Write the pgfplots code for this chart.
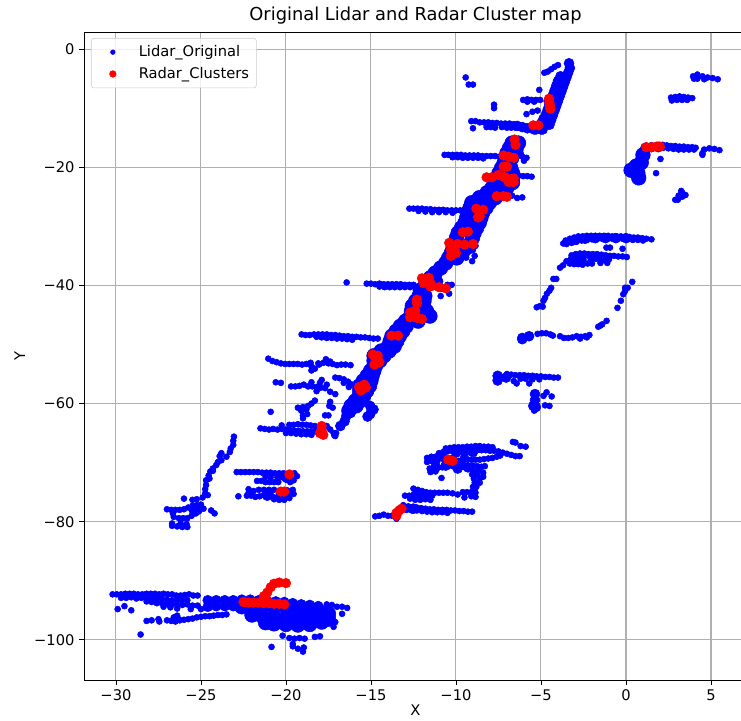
\documentclass[border=0pt]{standalone}
\usepackage{fontspec}
\setmainfont{DejaVu Sans}
\usepackage{pgfplots}
\pgfplotsset{compat=1.18}
\definecolor{lidar}{RGB}{0,0,255}
\definecolor{radar}{RGB}{255,0,0}
\pgfplotsset{
  sm/.style={forget plot,only marks,mark=*,mark size=2.25pt,color=lidar,mark options={draw=none,fill=lidar}},
  md/.style={forget plot,only marks,mark=*,mark size=3.75pt,color=lidar,mark options={draw=none,fill=lidar}},
  lg/.style={forget plot,only marks,mark=*,mark size=5.5pt,color=lidar,mark options={draw=none,fill=lidar}},
  rd/.style={forget plot,only marks,mark=*,mark size=3.6pt,color=radar,mark options={draw=none,fill=radar}},
}
\begin{document}
\begin{tikzpicture}
\path[use as bounding box] (-63pt,-30pt) rectangle (492.75pt,510pt);
\begin{axis}[
  scale only axis,
  width=497.25pt,height=486pt,
  xmin=-31.88,xmax=7.12,ymin=-106.8,ymax=2.9,
  xtick={-30,-25,-20,-15,-10,-5,0,5},
  xticklabels={−30,−25,−20,−15,−10,−5,0,5},
  ytick={0,-20,-40,-60,-80,-100},
  yticklabels={0,−20,−40,−60,−80,−100},
  tick label style={font=\fontsize{11}{12}\selectfont},
  tick style={black,line width=0.6pt},
  tick align=outside,
  major tick length=3.6pt,
  xtick pos=bottom,ytick pos=left,
  axis line style={black,line width=0.6pt},
  grid=major,
  grid style={color=black!31,line width=0.8pt},
  title={Original Lidar and Radar Cluster map},
  title style={font=\fontsize{13.4}{14}\selectfont,yshift=-4pt},
  xlabel={X},ylabel={Y},
  xlabel style={yshift=3.5pt},
  label style={font=\fontsize{11}{12}\selectfont},
  legend cell align=left,
  legend image code/.code={\path (0pt,0pt) (29.75pt,0pt); \draw[#1] plot coordinates {(12.5pt,0pt)};},
  legend style={at={(5.25pt,481.5pt)},anchor=north west,font=\fontsize{11}{12}\selectfont,
    draw=black!20,rounded corners=2pt,fill=white,fill opacity=0.8,text opacity=1,inner sep=3.5pt,row sep=2.5pt},
]
\addlegendimage{only marks,mark=*,mark size=1.75pt,color=lidar,mark options={opacity=1}}
\addlegendentry{Lidar\_Original}
\addlegendimage{only marks,mark=*,mark size=2.5pt,color=radar,mark options={opacity=1}}
\addlegendentry{Radar\_Clusters}

% ---- main band, upper part
\addplot[md] coordinates {(-3.35,-2.4)(-3.3,-3.2)(-3.4,-4)(-3.5,-4.8)(-3.6,-5.6)(-3.7,-6.4)(-3.8,-7.2)(-3.9,-8)(-4,-8.8)(-4.1,-9.6)(-4.2,-10.4)(-4.3,-11.2)(-4.4,-12)(-4.5,-12.8)(-4.9,-13.6)
(-3.85,-4.6)(-4,-5.4)(-4.1,-6.2)(-4.2,-7)(-4.3,-7.8)(-4.4,-8.6)(-4.55,-8.8)(-4.5,-9.4)(-4.6,-10.2)(-4.7,-11)(-4.85,-11.8)(-4.75,-12.4)(-5,-12.6)(-5.1,-13)(-5.5,-13.2)(-5.3,-13.6)};
% ---- main band, middle and lower
\addplot[lg] coordinates {
(-6.7,-15.9)(-6.32,-15.9)(-7,-17.6)(-6.57,-17.6)(-7.17,-19.3)(-6.87,-19.3)(-7.47,-21)(-6.67,-21)(-7.57,-22.6)(-6.67,-22.6)(-8.17,-24.3)(-7.33,-24.3)(-9.07,-26)(-8.03,-26)(-9.27,-27.7)(-8.43,-27.7)(-9.47,-29.4)(-8.63,-29.4)(-9.87,-31.1)(-8.93,-31.1)(-10.07,-32.8)(-9.13,-32.8)(-10.27,-34.5)(-9.63,-34.5)(-10.6,-36.2)(-11.22,-37.9)(-11.77,-39.5)(-11.23,-39.5)
(-12.1,-40.8)(-12.17,-41.8)(-11.83,-41.8)(-12.57,-43.5)(-11.93,-43.5)(-12.67,-45.2)(-11.53,-45.2)(-13.27,-46.9)(-12.93,-46.9)(-13.77,-48.6)(-13.33,-48.6)(-13.97,-50.3)(-13.63,-50.3)(-14.82,-51.9)(-14.23,-51.9)(-14.82,-53.6)(-14.73,-53.6)(-15.22,-55.3)(-14.93,-55.3)(-15.67,-57)(-15.08,-57)(-15.67,-58.7)(-15.43,-58.7)(-16.17,-60.4)(-15.88,-60.4)
(-6.85,-16.75)(-6.45,-16.75)(-7.08,-18.45)(-6.72,-18.45)(-7.32,-20.15)(-6.77,-20.15)(-7.52,-21.8)(-6.67,-21.8)(-7.87,-23.45)(-7,-23.45)(-8.62,-25.15)(-7.68,-25.15)(-9.17,-26.85)(-8.23,-26.85)(-9.37,-28.55)(-8.53,-28.55)(-9.67,-30.25)(-8.78,-30.25)(-9.97,-31.95)(-9.03,-31.95)(-10.17,-33.65)(-9.38,-33.65)(-10.43,-35.35)(-9.95,-35.35)(-10.9,-37.05)(-11.5,-38.7)
(-12.37,-42.65)(-11.88,-42.65)(-12.62,-44.35)(-11.73,-44.35)(-12.97,-46.05)(-12.23,-46.05)(-13.52,-47.75)(-13.13,-47.75)(-13.87,-49.45)(-13.48,-49.45)(-14.4,-51.1)(-13.93,-51.1)(-14.82,-52.75)(-14.48,-52.75)(-15.02,-54.45)(-14.83,-54.45)(-15.45,-56.15)(-15,-56.15)(-15.67,-57.85)(-15.25,-57.85)(-15.92,-59.55)(-15.65,-59.55)(-16.3,-61.2)};
\addplot[md] coordinates {(-16.45,-62.1)(-16.2,-61.6)(-16.8,-63.8)(-16.55,-63)(-15.05,-60.4)(-15.05,-61.8)(-14.85,-61)(-15.2,-62.2)(-11.05,-39.3)};
% ---- strands, top
\addplot[sm] coordinates {
(-17.05,-65)(-17.15,-65.4)
(-4.8,-4)(-4.6,-3.8)(-4.4,-3.4)(-4.2,-3)(-4,-2.7)(-9.43,-4.8)(-9.25,-6)(-9,-6)(-7.76,-9.4)(-7.76,-10)
(-6.05,-8.6)(-5.8,-8.5)(-5.55,-8.6)(-5.3,-8.6)(-5.05,-8.6)(-5.8,-8.9)(-5.4,-8.9)(-5.1,-6.9)(-5.85,-11)(-5.5,-10.6)(-5.2,-10.4)
(-9.1,-12.2)(-8.85,-12.2)(-8.6,-12.4)(-8.35,-12.4)(-8.1,-12.4)(-7.85,-12.5)(-7.6,-12.5)(-7.35,-12.6)(-7.1,-12.6)(-6.85,-12.6)(-6.6,-12.7)
(-8.2,-13.2)(-7.95,-13.2)(-7.7,-13.3)(-7.3,-13.2)(-7,-13.3)(-6.75,-13.3)(-6.5,-13.3)(-9,-13.4)
(-10.67,-17.9)(-10.45,-17.9)(-10.2,-17.9)(-9.95,-17.9)(-9.7,-17.9)(-9.45,-18)(-9.2,-18)(-8.95,-18)(-8.7,-18)(-8.45,-18.1)(-8.2,-18.1)(-7.95,-18.1)(-7.7,-18.1)(-7.45,-18.2)
(-10.2,-18.3)(-9.9,-18.3)(-9.6,-18.4)(-9.3,-18.4)(-9,-18.4)(-8.7,-18.4)(-8.4,-18.5)
(-6.1,-18.2)(-5.85,-18.4)(-6,-18.9)(-6.2,-17.6)
(-6.6,-21.3)(-6.3,-21.4)(-6.05,-21.5)(-5.8,-21.5)(-5.55,-21.6)
(-6.7,-24.8)(-6.4,-25.2)(-6.1,-25.1)
(-12.74,-27)(-12.5,-27)(-12.25,-27)(-12,-27)(-11.75,-27.1)(-11.5,-27.1)(-11.25,-27.2)(-11,-27.2)(-10.75,-27.2)(-10.5,-27.3)(-10.25,-27.3)(-10,-27.3)(-9.75,-27.3)(-9.5,-27.2)(-12.2,-27.4)(-11.8,-27.5)(-11.4,-27.6)(-11,-27.6)(-10.6,-27.6)(-10.2,-27.7)
(-9,-34)(-8.9,-35)(-9.4,-35.3)(-9.05,-35.9)(-8.85,-33.3)
% row y = -40
(-16.43,-39.5)(-15.25,-39.7)(-15,-39.7)(-14.75,-39.8)(-14.5,-39.7)(-14.25,-39.8)(-14,-39.8)(-13.75,-39.8)(-13.5,-39.8)(-13.25,-39.8)(-13,-39.9)(-12.75,-39.9)(-12.5,-39.9)(-10.5,-39.9)(-10.25,-39.9)
(-14.5,-40.2)(-14.2,-40.3)(-13.9,-40.3)(-13.6,-40.3)(-13.3,-40.3)(-13,-40.3)(-12.7,-40.3)(-12.4,-40.3)
% right of band
(-10.9,-40.6)(-10.4,-41.4)(-10.9,-41.8)
% right top
(3.95,-4.6)(4.2,-4.3)(4.5,-4.6)(4.8,-4.8)(5.1,-4.9)(5.4,-5.1)(4.2,-5)(4.6,-5.1)(4,-5)
(2.65,-8.2)(2.9,-8.1)(3.15,-8)(3.4,-8.1)(3.65,-8.2)(3.9,-8.3)(2.7,-8.7)(3,-8.6)(3.3,-8.6)(3.6,-8.6)
(1.9,-16.2)(2.15,-16.2)(2.4,-16.3)(2.65,-16.4)(2.9,-16.4)(3.15,-16.5)(3.4,-16.5)(3.65,-16.6)(3.9,-16.6)(4.1,-16.7)(2.2,-16.7)(2.5,-16.8)(2.8,-16.9)(3.1,-17)(3.4,-17)(3.7,-17)(4,-17)
(4.5,-17.6)(4.6,-17)(4.9,-16.8)(5.2,-16.9)(5.5,-17.1)(4.5,-17.9)
(2.03,-18.6)(1.77,-21)
(2.9,-25.5)(3.1,-24.8)(3.25,-24)(3.5,-24.7)(3.3,-25)(3.05,-25.5)(3.3,-24.3)
% right middle
(-3.69,-32.9)(-3.55,-32.4)(-3.3,-32.1)(-3.05,-31.9)(-2.8,-31.7)(-2.55,-31.7)(-2.3,-31.6)(-2.05,-31.6)(-1.8,-31.6)(-1.55,-31.6)(-1.3,-31.6)(-1.05,-31.6)(-0.8,-31.7)(-0.55,-31.7)(-0.3,-31.7)(-0.05,-31.8)(0.2,-31.8)(0.45,-31.9)(0.7,-31.9)(0.95,-32)(1.2,-32.1)(1.5,-32.2)
(-3.5,-33)(-3.2,-32.8)(-2.9,-32.6)(-2.6,-32.4)(-2.3,-32.3)(-2,-32.2)(-1.7,-32.1)(-1.4,-32.1)(-1.1,-32.1)(-0.8,-32.1)(-0.5,-32.1)(-0.2,-32.1)(0.1,-32.2)(0.4,-32.3)(0.7,-32.3)(1,-32.4)(-3.1,-32.2)(-2.7,-32)
(-0.94,-33.6)(-1.15,-33.6)(-0.2,-33.8)
(-3.2,-34.9)(-2.95,-34.7)(-2.7,-34.6)(-2.45,-34.6)(-2.2,-34.7)(-1.95,-34.7)(-1.7,-34.7)(-1.45,-34.8)(-1.2,-34.9)(-0.95,-35)(-0.7,-35)(-0.45,-35.1)(-0.2,-35.1)(0.05,-35.2)
(-3.5,-35.9)(-3.25,-35.6)(-3,-35.6)(-2.75,-35.7)(-2.5,-35.7)(-2.25,-36.3)(-2,-36.3)(-1.75,-35.5)(-1.5,-35.7)(-1.25,-35.7)(-1,-35.6)(-3.3,-36.3)(-3.05,-36.4)(-2.8,-36.4)(-2.55,-36.5)(-1.5,-36.2)(-1.1,-36.2)
(-3.88,-37)(-3.7,-36.6)(-4.27,-38.9)(-4.1,-38.9)
(-4.4,-40.4)(-4.5,-40.9)(-4.65,-41.4)(-4.76,-42.1)(-4.85,-42.6)(-5.06,-43.5)(-5.25,-43.7)(-4.9,-43.6)
(-5.2,-48.2)(-4.95,-48.1)(-4.7,-48.1)(-4.45,-48.3)(-4.3,-48.5)
(-3.88,-48.6)(-3.65,-48.9)(-3.4,-48.9)(-3.15,-48.8)(-2.9,-48.6)(-2.65,-48.7)(-2.4,-48.6)(-2.15,-48.4)(-2.3,-48.8)(-2.7,-49)
(-1.63,-47)(-1.4,-46.6)(-1.14,-46)(-1.5,-46.8)(-0.5,-43.8)(-0.3,-42.6)(-0.06,-41)(0.1,-40.4)(0.37,-39.4)(-0.16,-41.5)(-0.05,-40.4)
% row -55
(-7,-55)(-6.75,-55.1)(-6.5,-55.2)(-6.25,-55.2)(-6,-55.2)(-5.75,-55.3)(-5.5,-55.3)(-5.25,-55.4)(-5,-55.4)(-4.75,-55.5)(-4.5,-55.5)(-4.25,-55.6)(-4,-55.6)
(-6.43,-56.6)(-5.69,-56.6)(-6.6,-56.2)(-6.2,-55.8)(-5.9,-55.8)(-5.5,-55.9)(-5.1,-55.9)
(-4.67,-58.1)(-4.37,-58.8)(-4.76,-60.3)(-4.5,-60.4)(-5.4,-61.2)(-4.85,-58.7)
% lower clusters
(-10.6,-67.6)(-10.35,-67.5)(-10.1,-67.4)(-9.85,-67.4)(-9.6,-67.4)(-9.35,-67.3)(-9.1,-67.3)(-8.85,-67.2)(-8.6,-67.2)(-8.35,-67.3)(-8.1,-67.3)(-7.85,-67.4)
(-11,-68.4)(-10.75,-68.2)(-10.5,-68.1)(-10.25,-68)(-10,-68)(-9.75,-68)(-9.5,-67.9)(-9.25,-67.9)(-9,-67.9)(-8.75,-67.9)(-8.5,-67.9)(-8.25,-67.9)(-8,-68)(-7.75,-68)(-7.5,-68.1)(-7.25,-68.3)(-7,-68.5)(-6.75,-68.7)(-6.5,-68.9)(-6.25,-68.9)
(-9.6,-69.3)(-9.35,-69.4)(-9.1,-69.5)(-8.85,-69.5)(-8.6,-69.5)(-8.35,-69.4)(-8.1,-69.3)(-7.85,-69.2)(-7.6,-69)(-7.4,-68.8)
(-6.5,-66.6)(-6.2,-67.2)(-5.9,-67.3)(-6.65,-66.5)
(-11.7,-69.2)(-11.45,-69)(-11.2,-69)(-10.95,-69)(-11.7,-69.9)(-11.4,-69.8)(-11.1,-69.8)(-9.85,-69.7)(-9.6,-70)(-11.55,-71)(-11.3,-71.2)(-11.05,-70.8)(-10.8,-70.8)(-10.5,-70.6)(-10.2,-70.6)(-9.9,-70.6)(-9.6,-70.7)(-9.3,-70.5)(-9,-70.5)(-8.75,-70.6)(-8.5,-70.7)(-8.3,-70.6)
(-11.5,-71.6)(-11.2,-71.5)(-10.85,-72.6)(-9,-71.4)(-8.7,-71.3)(-8.4,-71.7)(-9.05,-72)(-8.75,-72)(-8.4,-72.4)(-8.95,-72.7)(-8.6,-72.7)(-8.9,-73.4)(-8.6,-73.4)(-9,-74.1)(-8.8,-74.1)(-8.9,-74.8)
(-12.5,-74.4)(-12.25,-74.6)(-12,-74.8)(-11.75,-75)(-11.5,-75.1)(-11.25,-75.1)(-11,-75.1)(-10.75,-75.1)(-10.5,-75.1)(-10.2,-75.2)(-9.9,-75.4)(-9.6,-75)(-9.35,-75)(-9.1,-75)(-8.85,-75.1)(-9.5,-75.9)(-8.85,-75.8)(-9.1,-75.7)
(-13,-75.6)(-12.75,-75.6)(-12.5,-75.6)(-12.25,-75.6)(-12.7,-76.1)(-12.4,-76.3)(-12.1,-76.3)(-11.8,-76.2)(-11.5,-76.3)(-12,-75.5)(-11.7,-75.6)(-11.4,-75.6)
(-13.1,-77.2)(-12.8,-77.4)(-12.55,-77.5)(-12.3,-77.6)(-12.05,-77.7)(-11.8,-77.8)(-11.55,-77.9)(-11.3,-77.9)(-11.05,-78)(-10.8,-78)(-10.55,-78)(-10.3,-78.1)(-10.05,-78.1)(-9.8,-78.2)(-9.55,-78.2)(-9.3,-78.3)(-9.05,-78.3)
(-12.9,-78)(-12.6,-78.1)(-12.3,-78.1)(-12,-78.2)(-11.7,-78.3)(-11.4,-78.4)(-11.1,-78.4)(-10.8,-78.4)(-10.5,-78.5)
(-14.75,-79.1)(-14.5,-79)(-14.25,-78.8)(-14,-79)(-13.75,-79)(-13.5,-79.5)
% left rows
(-19.08,-48.3)(-18.85,-48.4)(-18.6,-48.4)(-18.35,-48.3)(-18.1,-48.3)(-17.85,-48.3)(-17.6,-48.3)(-17.35,-48.4)(-17.1,-48.4)(-16.85,-48.5)(-16.6,-48.6)(-16.35,-48.6)(-16.1,-48.7)(-15.85,-48.7)(-15.6,-48.8)(-15.35,-48.8)(-15.1,-48.9)(-14.85,-49)(-14.6,-49)
(-18.2,-48.7)(-17.9,-48.8)(-17.6,-48.9)(-17.3,-48.9)(-17,-49)(-16.7,-49)(-16.4,-49.1)(-16.1,-49.2)
(-21.04,-52.4)(-20.8,-52.8)(-20.55,-53)(-20.3,-53.2)(-20.05,-53.3)(-19.8,-53.3)(-19.55,-53.3)(-19.3,-53.3)(-19.05,-53.4)(-18.8,-53.3)(-18.55,-53.1)(-18.5,-53.7)(-18.5,-54.4)(-18.3,-54.1)(-18.05,-53.4)(-17.8,-53.1)(-17.65,-52.5)(-17.5,-53.2)(-17.25,-53.3)(-17,-53.5)(-16.75,-53.4)(-16.5,-53.4)(-16.2,-53.5)(-18.1,-53.2)(-17.4,-52.9)
(-20.6,-56.4)(-20.3,-56.5)(-19.7,-57.1)(-19.45,-57.1)(-19.2,-57)(-18.95,-56.8)(-18.7,-57.1)(-18.5,-56.4)(-18.45,-57.1)(-18.2,-57.2)(-18,-56.5)(-17.95,-57.3)(-17.9,-56)(-17.7,-57.4)(-17.6,-56.8)(-18.2,-57.9)(-17.4,-58)(-17.1,-58.4)
(-17.1,-55.6)(-16.85,-55.7)(-16.6,-55.9)(-16.35,-56.3)(-16.2,-56.7)(-16.6,-56.5)(-16.3,-57.2)
(-18.3,-59.5)(-18.5,-60)(-17.4,-59.7)(-17.45,-60.4)(-17.25,-60.7)(-19.3,-60.7)(-19,-60.6)(-18.7,-60.4)(-19.1,-61.2)(-18.8,-61)(-19,-62)(-18.75,-61.8)(-19,-62.5)(-17.7,-62)(-17.5,-62)(-20.9,-61.4)
(-21.5,-64.2)(-21.25,-64.3)(-21,-64.4)(-20.75,-64.3)(-20.5,-64.4)(-20.25,-64.3)(-20,-64.4)(-19.75,-64.5)(-19.5,-64.6)(-19.25,-64.6)(-19,-64.7)(-18.75,-64.7)(-18.5,-64.7)(-18.25,-64.7)
(-20.25,-63.7)(-19.8,-63.6)(-19.55,-63.6)(-19.3,-63.5)(-19.05,-63.6)(-18.8,-63.6)(-18.55,-63.7)(-18.3,-63.8)
(-20,-65)(-19.7,-65)(-19.4,-65.1)(-19.1,-65.2)(-18.8,-65.2)(-18.5,-65.3)(-17.4,-64.4)(-17.6,-63.8)(-17.2,-65)(-17.1,-65.5)
% far left
(-23.06,-65.6)(-23.1,-66.3)(-23.1,-67)(-23.25,-67.6)(-23.3,-68.2)(-23.8,-68.4)(-23.9,-68.9)(-23.8,-69.6)(-23.5,-69)(-24.1,-70.4)(-24,-69.9)(-24.3,-71)(-24.45,-71.5)(-24.55,-72.2)(-24.3,-71.4)(-24.7,-73)(-24.5,-72.7)(-24.7,-73.8)(-24.75,-74.5)(-24.75,-75.2)(-24.6,-75.5)(-24.9,-75.9)(-25.25,-76.2)(-25.5,-76.3)(-26,-76.1)
(-27,-77.9)(-26.75,-78)(-26.5,-78)(-26.25,-78)(-26,-77.9)(-25.75,-77.6)(-25.5,-77.3)(-25.25,-77.2)(-25,-77.1)(-25.2,-77.9)(-24.85,-77.8)(-24.4,-78.1)(-24.2,-78.6)
(-26.65,-78.6)(-26.6,-79.2)(-26.3,-79.4)(-26.05,-79.4)(-25.8,-79.4)(-25.55,-79)(-25.3,-78.6)(-25.5,-78.2)
(-26.7,-80.3)(-26.7,-80.7)(-26.4,-80.8)(-26.1,-80.9)(-25.8,-80.9)(-25.85,-80.4)(-26.2,-80.3)
(-22.9,-71.6)(-22.65,-71.6)(-22.4,-71.6)(-22.15,-71.6)(-21.9,-71.6)(-21.65,-71.6)(-21.4,-71.7)(-21.15,-71.7)(-20.9,-71.7)(-20.65,-71.8)(-20.4,-71.8)(-20.15,-71.8)
(-21.7,-73.1)(-21.45,-73.1)(-21.2,-73.3)(-20.95,-73.3)(-20.7,-73.3)(-20.45,-73.3)(-21.2,-72.4)(-20.9,-72.5)(-20.5,-72.5)(-20.2,-72.5)
(-22.2,-74.5)(-22.2,-75.1)(-21.9,-74.8)(-21.6,-74.6)(-21.3,-74.6)(-21,-74.6)(-20.7,-74.6)
(-22.8,-75.7)(-22.3,-75.6)(-22.05,-75.6)(-21.8,-75.8)(-21.55,-75.7)(-21.3,-75.5)
(-19.35,-72.3)(-19.5,-71.8)(-19.55,-73)(-19.75,-73.3)(-19.6,-74.6)(-19.55,-75.3)(-19.8,-76)(-20.1,-76.3)(-20.4,-76.3)(-20.7,-75.9)(-20.9,-75.4)(-20.7,-76.2)
% bottom
(-30.2,-92.3)(-29.95,-92.3)(-29.7,-92.3)(-29.45,-92.2)(-29.2,-92.2)(-28.95,-92.2)(-28.7,-92.3)(-28.45,-92.3)(-28.2,-92.2)(-27.95,-92.2)(-27.7,-92.2)(-27.45,-92.3)(-27.2,-92.2)(-26.95,-92.3)(-26.7,-92.3)(-26.45,-92.5)(-26.2,-92.5)(-25.95,-92.4)(-25.7,-92.3)(-25.45,-92.5)(-25.2,-92.5)
(-29.7,-92.9)(-29.4,-92.9)(-29.1,-92.8)(-28.8,-93)(-28.5,-92.9)(-28.2,-93)(-27.9,-93)(-27.6,-93)(-27.3,-93.1)(-27,-93.2)(-26.7,-93.3)(-26.4,-93.3)(-26.1,-93.3)(-25.8,-93.3)
(-28.2,-93.5)(-27.9,-93.6)(-27.6,-93.8)(-27.3,-93.8)(-27,-93.9)(-26.7,-94)(-26.4,-94)(-26.1,-94.1)(-25.8,-94)(-25.5,-94.2)(-25.2,-94.2)
(-27.2,-94.4)(-26.8,-94.5)(-26.4,-94.7)(-25.6,-94.8)(-25,-94.8)
(-29.9,-94.8)(-29.5,-94.3)(-29.1,-95)(-28.2,-96.8)(-27.9,-96.7)(-27.5,-96.5)(-27.45,-96.9)(-28.55,-99.1)
(-27,-96.7)(-26.75,-96.8)(-26.5,-96.9)(-26.3,-96.5)(-26.4,-95.9)(-26.6,-96.2)(-26.25,-96.7)(-26,-96.6)(-25.75,-96.5)(-25.5,-96.4)(-25.25,-96.2)(-25,-96.1)(-24.75,-96)(-24.5,-96)(-24.25,-95.9)(-24,-95.8)(-23.75,-95.8)(-23.5,-95.7)
(-19.8,-99.7)(-19.5,-99.8)(-19.2,-99.7)(-18.9,-99.8)(-20.2,-99.3)(-18.3,-99.5)(-18,-99.4)(-20.85,-101.2)(-19.6,-100.7)(-19.6,-101.1)(-19.3,-101.5)(-19,-102)(-18.95,-101.3)(-17.2,-97.8)(-17.1,-97)(-16.7,-95.6)(-16.4,-94.6)(-16.7,-94.4)(-17,-94.4)(-17.3,-94.1)(-17.6,-94)
};
% thick parts of strands
\addplot[md] coordinates {(-6.4,-13)(-6.1,-13.2)(-5.8,-13.4)(-5.4,-13.6)(-5,-13.6)
(1.15,-16.7)(1.5,-16.6)(1.9,-16.6)
(-3,-32.3)(-2.4,-32.1)(-1.8,-32)(-1.2,-32)(-0.6,-32)(0,-32)
(-3.1,-35.4)(-2.6,-35.2)(-2.9,-36)(-2,-35.2)
(-7.55,-55.3)(-7.55,-56.1)(-7.05,-55.6)(-6.1,-48.9)(-5.7,-48.6)(-6.1,-49.1)
(-5.35,-58.4)(-5.35,-59.4)(-5.45,-60.4)(-5.3,-60.6)
(-21.1,-75.6)(-20.3,-75.3)(-19.95,-75)(-20.3,-75.8)(-19.95,-72.6)
(-25.4,-78.2)(-25.2,-78)
(-11.3,-69.5)(-10.8,-69)(-11.2,-70.8)(-10.6,-70.5)(-10,-68.3)(-9.5,-68.2)(-9,-68.2)(-9.9,-71)(-9.3,-70.8)(-10.3,-69.6)
(-12.4,-75.6)(-11.8,-75.7)(-12.5,-77.8)
(-24.6,-93.3)(-24.1,-93.3)(-23.6,-93.3)(-23.1,-93.3)(-24.6,-94.4)(-24.1,-94.3)(-23.6,-94.3)(-23.1,-94.3)
(-22.6,-93.2)(-22.1,-93.2)(-21.6,-93.3)(-21.1,-93.4)(-20.6,-93.5)(-20.1,-93.6)(-19.6,-93.8)(-19.1,-94)(-18.6,-94.1)(-18.1,-94.3)
};
\addplot[lg] coordinates {(1,-17.9)(0.6,-19.8)(0.9,-19.2)(0.7,-21)(0.3,-20.5)(0.75,-21.8)
(-22.6,-94.4)(-22,-94.2)(-22,-95.8)(-21.4,-94.3)(-21.4,-96)(-21.2,-97.1)(-20.7,-94.4)(-20.7,-96.2)(-20.7,-97.3)(-20,-94.5)(-20,-96.3)(-20,-97.4)(-19.3,-94.7)(-19.3,-96.4)(-19.3,-97.5)(-18.6,-95)(-18.6,-96.8)(-18.6,-97.4)(-17.9,-95.4)(-17.9,-97)(-17.5,-95.6)(-17.5,-96.5)};
% ---- radar clusters
\addplot[rd] coordinates {
(-4.53,-8.4)(-4.47,-9.6)(-4.5,-9.1)(-4.45,-10.1)(-5.45,-12.9)(-5.15,-12.9)(-6.55,-15.3)(-6.5,-16.2)
(-7.2,-18)(-6.9,-18.2)(-6.6,-18.4)(-7.2,-19.9)(-7,-19.9)(-8.2,-21.7)(-7.9,-21.7)
(-7.5,-21.3)(-7.1,-21.7)(-6.8,-22)(-6.6,-22.5)(-6.9,-22.5)(-7.2,-21.6)(-6.6,-21.9)
(-7.6,-24.9)(-7.2,-24.9)(-7,-25)(-8.6,-27.5)(-8.6,-28.3)(-8.8,-27)(-8.4,-27.2)(-8.7,-28.5)
(-9.6,-31)(-9.3,-30.9)(-10.4,-32.8)(-9.9,-33)(-9.5,-33.1)(-9,-33)(-10.3,-34)(-10.3,-35)(-10,-34.5)
(-12,-38.8)(-11.6,-38.7)(-11.9,-39.6)(-11.5,-39.6)(-11.5,-40.2)(-11,-40.3)(-10.6,-40.5)
(-12.3,-42.4)(-12.3,-43)(-12.7,-44.6)(-12.7,-45.4)(-12.3,-45.5)(-12,-45.7)(-12.4,-44.3)
(-13.8,-48.5)(-13.4,-48.5)(-14.9,-51.7)(-14.6,-51.9)(-14.7,-52.5)(-14.8,-53.4)(-14.5,-53)
(-15.7,-57.2)(-15.3,-57.3)(-15.6,-57.8)(-15.4,-56.8)
(-17.9,-63.8)(-17.9,-64.5)(-18,-65)(-17.8,-65.3)
(-10.45,-69.5)(-10.2,-69.7)(-13.33,-78.1)(-13.5,-78.5)(-13.2,-77.8)(-13.5,-79)
(-19.8,-72)(-20.3,-74.9)(-20.1,-74.9)
(1.2,-16.6)(1.5,-16.6)(1.8,-16.5)(2,-16.5)
(-22.5,-93.6)(-22.2,-93.7)(-21.9,-93.7)(-21.6,-93.7)(-21.3,-93.8)(-21,-93.8)(-20.7,-93.9)(-20.4,-93.9)(-20.1,-94)
(-21.3,-92.6)(-21.2,-93)(-21.1,-92)(-20.9,-91.1)(-20.7,-90.5)(-20.4,-90.3)(-20,-90.4)
};
\end{axis}
\end{tikzpicture}
\end{document}
